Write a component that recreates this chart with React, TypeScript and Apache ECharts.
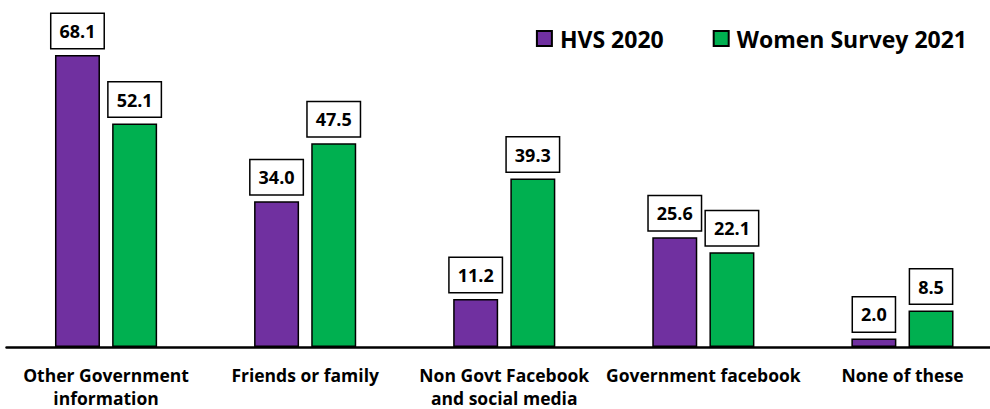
import React, { useEffect, useRef } from "react";
import * as echarts from "echarts";

const categories = [
  "Other Government\ninformation",
  "Friends or family",
  "Non Govt Facebook\nand social media",
  "Government facebook",
  "None of these",
];
const hvs2020 = [68.1, 34.0, 11.2, 25.6, 2.0];
const women2021 = [52.1, 47.5, 39.3, 22.1, 8.5];
const seriesNames = ["HVS 2020", "Women Survey 2021"];

const FONT = "'Open Sans', 'Liberation Sans', sans-serif";

export default function App() {
  const ref = useRef<HTMLDivElement>(null);
  useEffect(() => {
    const chart = echarts.init(ref.current!, null, { renderer: "svg" });
    const label = {
      show: true,
      position: "top" as const,
      distance: 7,
      formatter: (p: any) => Number(p.value).toFixed(1),
      fontFamily: FONT,
      fontWeight: "bold" as const,
      fontSize: 18,
      lineHeight: 20,
      color: "#000",
      backgroundColor: "#fff",
      borderColor: "#000",
      borderWidth: 1.5,
      padding: [7, 8, 7, 8],
    };
    chart.setOption({
      animation: false,
      backgroundColor: "#fff",
      legend: {
        right: 35,
        top: 27,
        padding: 0,
        itemWidth: 15,
        itemHeight: 15,
        itemGap: 49,
        icon: "rect",
        textStyle: {
          fontFamily: FONT,
          fontWeight: "bold",
          fontSize: 23,
          color: "#000",
          padding: [0, 0, 0, 3],
        },
        data: seriesNames,
      },
      grid: { left: 6.5, right: 0, top: 4, bottom: 61, containLabel: false },
      xAxis: {
        type: "category",
        data: categories,
        axisLine: { lineStyle: { color: "#000", width: 2.5 } },
        axisTick: { show: false },
        axisLabel: {
          interval: 0,
          margin: 16,
          fontFamily: FONT,
          fontWeight: "bold",
          fontSize: 17.5,
          lineHeight: 23,
          color: "#000",
        },
      },
      yAxis: {
        type: "value",
        min: 0,
        max: 80,
        show: false,
        splitLine: { show: false },
      },
      series: [
        {
          name: seriesNames[0],
          type: "bar",
          data: hvs2020,
          barWidth: 45,
          barGap: "27%",
          itemStyle: { color: "#7030A0", borderColor: "#000", borderWidth: 1.5 },
          label,
        },
        {
          name: seriesNames[1],
          type: "bar",
          data: women2021,
          barWidth: 45,
          itemStyle: { color: "#00B050", borderColor: "#000", borderWidth: 1.5 },
          label,
        },
      ],
    });
    return () => chart.dispose();
  }, []);
  return (
    <div
      style={{
        position: "absolute",
        left: 0,
        top: 0,
        width: 990,
        height: 409,
        overflow: "hidden",
        background: "#fff",
      }}
    >
      <div ref={ref} style={{ width: 1002, height: 409 }} />
    </div>
  );
}
